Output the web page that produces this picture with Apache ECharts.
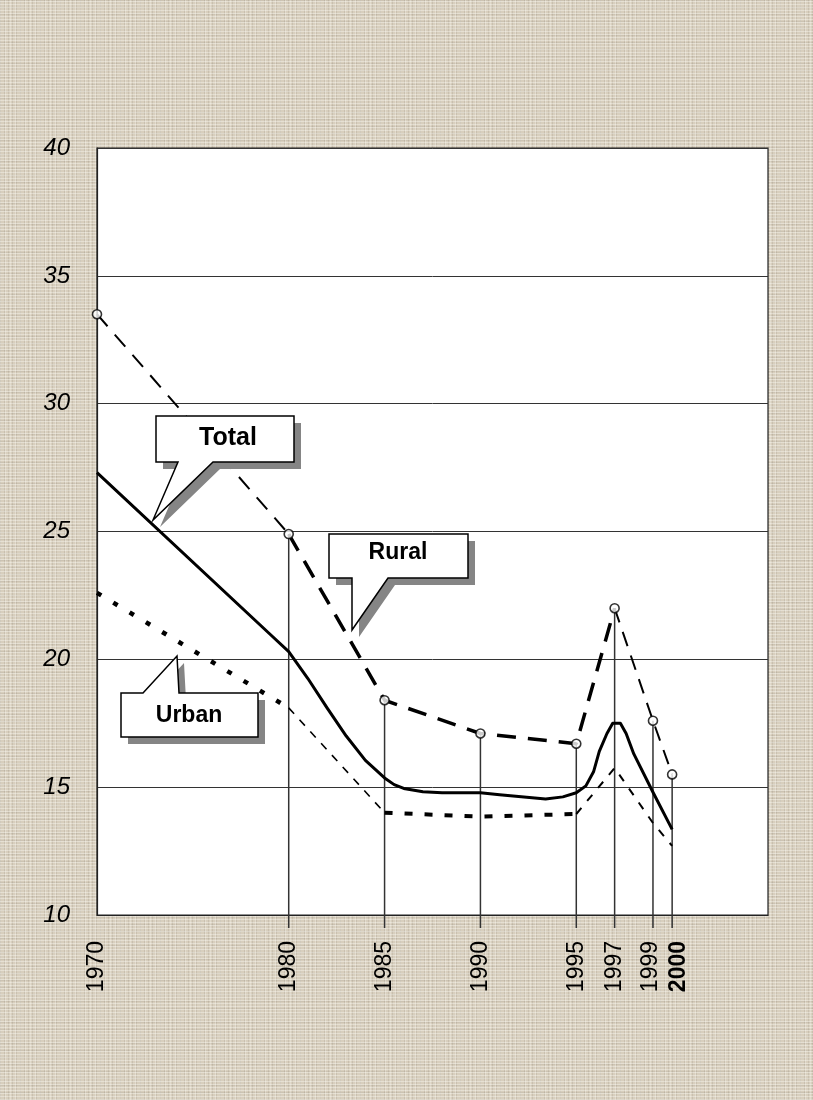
<!DOCTYPE html>
<html>
<head>
<meta charset="utf-8">
<script src="https://cdn.jsdelivr.net/npm/echarts@6.0.0/dist/echarts.min.js"></script>
<style>
html,body{margin:0;padding:0;}
body{
  width:813px;height:1100px;
  background-color:#d8cfbe;
  background-image:
    repeating-linear-gradient(0deg, rgba(255,255,250,0.35) 0 1px, transparent 1px 3px),
    repeating-linear-gradient(90deg, rgba(100,90,75,0.13) 0 1px, transparent 1px 4px),
    repeating-linear-gradient(90deg, rgba(255,255,250,0.25) 0 1px, transparent 1px 5px),
    repeating-linear-gradient(0deg, rgba(100,90,75,0.10) 0 1px, transparent 1px 7px);
}
#chart{width:813px;height:1100px;}
</style>
</head>
<body>
<div id="chart"></div>
<script>
// ---- data ----
const xTickYears = [1970, 1980, 1985, 1990, 1995, 1997, 1999, 2000];
const yTicks = [10, 15, 20, 25, 30, 35, 40];

const ruralYears  = [1970, 1980, 1985, 1990, 1995, 1997, 1999, 2000];
const ruralValues = [33.5, 24.9, 18.4, 17.1, 16.7, 22.0, 17.6, 15.5];

const urbanYears  = [1970, 1980, 1985, 1990, 1995, 1997, 1999, 2000];
const urbanValues = [22.6, 18.1, 14.0, 13.85, 13.95, 15.75, 13.6, 12.7];

const totalYears  = [1970, 1979, 1980, 1981, 1982, 1983, 1984, 1985, 1985.5, 1986, 1987, 1988, 1990, 1991, 1993.4, 1994.3, 1995, 1995.5, 1995.9, 1996.2, 1996.6, 1996.9, 1997.3, 1997.6, 1998, 1999, 2000];
const totalValues = [27.3, 21.0, 20.3, 19.25, 18.1, 17.0, 16.05, 15.36, 15.1, 14.95, 14.82, 14.78, 14.78, 14.7, 14.54, 14.62, 14.78, 15.05, 15.6, 16.4, 17.1, 17.5, 17.5, 17.1, 16.3, 14.8, 13.35];

const seriesLabels = { total: 'Total', rural: 'Rural', urban: 'Urban' };

// ---- helpers ----
function pairs(xs, ys) { return xs.map((x, i) => [x, ys[i]]); }
function segment(xs, ys, from, to) {
  return pairs(xs, ys).filter(p => p[0] >= from && p[0] <= to);
}

const chart = echarts.init(document.getElementById('chart'), null, { renderer: 'canvas' });

const Y_MIN = yTicks[0], Y_MAX = yTicks[yTicks.length - 1];
const SANS = "'Liberation Sans',Arial,Helvetica,sans-serif";
const BOLD_YEAR = 2000;
// small horizontal nudges of the crowded last two labels, as in the original
const labelNudge = { 1999: -2, 2000: 7 };

function dashLine(data, width, dash) {
  return {
    type: 'line',
    data: data,
    symbol: 'none',
    silent: true,
    z: 3,
    lineStyle: { color: '#000', width: width, type: dash, cap: 'butt' }
  };
}

const option = {
  backgroundColor: 'transparent',
  animation: false,
  grid: {
    left: 97, top: 148, right: 45, bottom: 185,
    show: true, backgroundColor: '#ffffff', borderColor: '#222', borderWidth: 1.2
  },
  xAxis: {
    type: 'value',
    min: 1970, max: 2005,
    axisLine: { show: true, lineStyle: { color: '#222', width: 1.2 } },
    axisTick: { show: false },
    splitLine: { show: false },
    axisLabel: { show: false }
  },
  yAxis: {
    type: 'value',
    min: Y_MIN, max: Y_MAX, interval: 5,
    axisLine: { show: true, lineStyle: { color: '#222', width: 1.2 } },
    axisTick: { show: false },
    splitLine: { show: true, lineStyle: { color: '#333', width: 1 } },
    axisLabel: {
      margin: 27,
      color: '#000',
      fontFamily: SANS,
      fontStyle: 'italic',
      fontSize: 24
    }
  },
  series: [
    // drop lines from rural points to just below the axis
    {
      type: 'custom',
      silent: true,
      clip: false,
      z: 1,
      data: pairs(ruralYears, ruralValues).filter(p => p[0] > 1970),
      renderItem: function (params, api) {
        const x = api.value(0), y = api.value(1);
        const p = api.coord([x, y]);
        const b = api.coord([x, Y_MIN]);
        return {
          type: 'line',
          shape: { x1: p[0], y1: p[1], x2: b[0], y2: b[1] + 13 },
          style: { stroke: '#333', lineWidth: 1.5 }
        };
      }
    },
    // x-axis year labels (vertical, reading upwards)
    {
      type: 'custom',
      silent: true,
      clip: false,
      z: 1,
      data: xTickYears.map(y => [y]),
      renderItem: function (params, api) {
        const yr = api.value(0);
        const b = api.coord([yr, Y_MIN]);
        return {
          type: 'text',
          x: b[0] + (labelNudge[yr] || 0),
          y: b[1] + 26,
          rotation: Math.PI / 2,
          style: {
            text: String(yr),
            fill: '#000',
            font: (yr === BOLD_YEAR ? 'bold ' : '') + '23px ' + SANS,
            align: 'right',
            verticalAlign: 'middle'
          }
        };
      }
    },
    // Total (solid)
    {
      type: 'line',
      name: seriesLabels.total,
      data: pairs(totalYears, totalValues),
      symbol: 'none',
      smooth: false,
      silent: true,
      z: 4,
      lineStyle: { color: '#000', width: 3, join: 'round' }
    },
    // Rural (long dashes, varying weight)
    dashLine(segment(ruralYears, ruralValues, 1970, 1980), 2, [16, 11]),
    dashLine(segment(ruralYears, ruralValues, 1980, 1997), 3.5, [19, 12]),
    dashLine(segment(ruralYears, ruralValues, 1997, 2000), 2, [15, 10]),
    // Urban
    dashLine(segment(urbanYears, urbanValues, 1970, 1980), 4.5, [5, 14]),
    dashLine(segment(urbanYears, urbanValues, 1980, 1985), 1.6, [8, 8]),
    dashLine(segment(urbanYears, urbanValues, 1985, 1995), 4, [8, 12]),
    dashLine(segment(urbanYears, urbanValues, 1995, 2000), 2, [8, 9]),
    // rural markers
    {
      type: 'scatter',
      silent: true,
      z: 6,
      data: pairs(ruralYears, ruralValues),
      symbol: 'circle',
      symbolSize: 9,
      itemStyle: { color: '#fff', borderColor: '#000', borderWidth: 1.6 }
    }
  ]
};

chart.setOption(option);

// ---- callouts (annotation boxes with pointers and drop shadows) ----
function callout(pts, text, center, fontSize) {
  const shadow = pts.map(p => [p[0] + 7, p[1] + 7]);
  return [
    { type: 'polygon', shape: { points: shadow }, style: { fill: '#858585' }, z: 100, silent: true },
    { type: 'polygon', shape: { points: pts }, style: { fill: '#fff', stroke: '#000', lineWidth: 1.5 }, z: 101, silent: true },
    { type: 'text', x: center[0], y: center[1], z: 102, silent: true,
      style: { text: text, fill: '#000', font: 'bold ' + fontSize + 'px ' + SANS,
               align: 'center', verticalAlign: 'middle' } }
  ];
}

const graphics = []
  .concat(callout([[156,416],[294,416],[294,462],[213,462],[153,520],[178,462],[156,462]], seriesLabels.total, [228,438], 25))
  .concat(callout([[329,534],[468,534],[468,578],[388,578],[352,630],[352,578],[329,578]], seriesLabels.rural, [398,553], 23))
  .concat(callout([[121,693],[143,693],[177,656],[179,693],[258,693],[258,737],[121,737]], seriesLabels.urban, [189,716], 23));

chart.setOption({ graphic: graphics });
</script>
</body>
</html>
